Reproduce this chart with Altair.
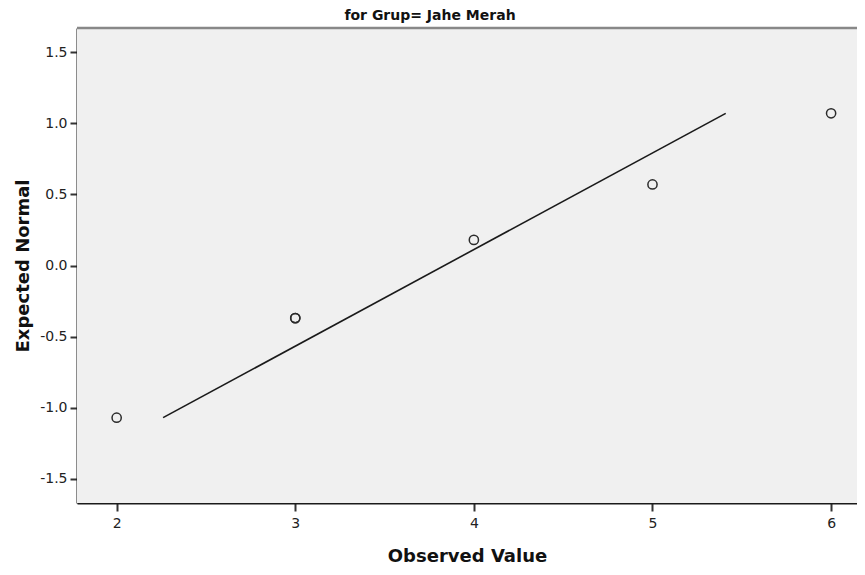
import altair as alt
import pandas as pd

observed = [2, 3, 3, 4, 5, 6]
expected = [-1.07, -0.37, -0.37, 0.18, 0.57, 1.07]
line_x = [2.26, 5.41]
line_y = [-1.07, 1.07]
x_ticks = [2, 3, 4, 5, 6]
y_ticks = [-1.5, -1.0, -0.5, 0.0, 0.5, 1.0, 1.5]
title_text = ["for Grup= Jahe Merah"]

pts = pd.DataFrame({"obs": observed, "exp": expected})
ln = pd.DataFrame({"obs": line_x, "exp": line_y})
ttl = pd.DataFrame({"t": title_text})

W, H = 780, 475
FONT = "DejaVu Sans"
xscale = alt.Scale(domain=[1.778, 6.145], nice=False, zero=False)
yscale = alt.Scale(domain=[-1.67, 1.67], nice=False, zero=False)

xaxis = alt.Axis(values=x_ticks, format="d", title="Observed Value", grid=False,
                 domainColor="#1a1a1a", domainWidth=2, tickColor="#333333", tickWidth=2,
                 tickSize=8, labelFontSize=14, labelColor="#222222", labelFont=FONT,
                 labelPadding=5, titleFont=FONT, titleFontSize=18, titleFontWeight="bold",
                 titleColor="#111111", titlePadding=17)
yaxis = alt.Axis(values=y_ticks, title="Expected Normal", grid=False,
                 labelExpr="replace(format(datum.value, '.1f'), '\u2212', '-')",
                 domainColor="#1a1a1a", domainWidth=2, tickColor="#333333", tickWidth=2,
                 tickSize=7, labelFontSize=14, labelColor="#222222", labelFont=FONT,
                 labelPadding=3, titleFont=FONT, titleFontSize=18, titleFontWeight="bold",
                 titleColor="#111111", titlePadding=7)

bg = alt.Chart(ttl).mark_rect(fill="#f0f0f0", stroke=None).encode(
    x=alt.value(0), x2=alt.value(W), y=alt.value(0), y2=alt.value(H)
)

points = alt.Chart(pts).mark_point(shape="circle", filled=False, size=85,
                                   stroke="#2b2b2b", strokeWidth=1.5, opacity=1).encode(
    x=alt.X("obs:Q", scale=xscale, axis=xaxis),
    y=alt.Y("exp:Q", scale=yscale, axis=yaxis),
)

line = alt.Chart(ln).mark_line(color="#1a1a1a", strokeWidth=1.6).encode(
    x=alt.X("obs:Q", scale=xscale),
    y=alt.Y("exp:Q", scale=yscale),
)

topborder = alt.Chart(ttl).mark_rule(color="#888888", strokeWidth=2.5).encode(
    x=alt.value(0), x2=alt.value(W), y=alt.value(0)
)

title = alt.Chart(ttl).mark_text(font=FONT, fontSize=14, fontWeight="bold", color="#111111",
                                 align="center", baseline="alphabetic").encode(
    text="t:N", x=alt.value(353), y=alt.value(-8)
)

chart = alt.layer(bg, line, points, topborder, title).properties(
    width=W, height=H,
    autosize=alt.AutoSizeParams(type="none"),
    padding={"left": 69, "top": 20, "right": 0, "bottom": 62},
).configure_view(stroke=None).configure(background="white")

chart.save("out.html", embed_options={"renderer": "svg", "actions": False})
